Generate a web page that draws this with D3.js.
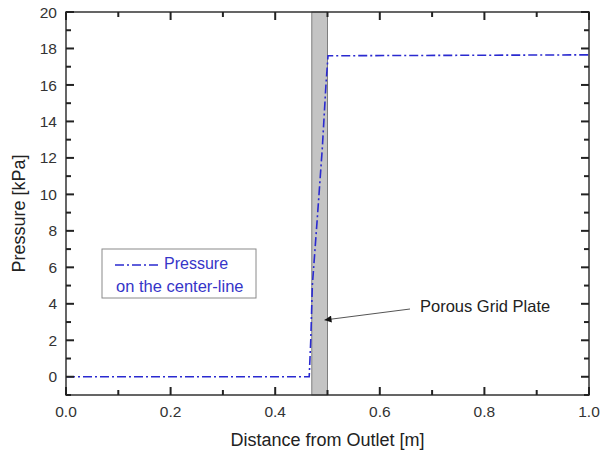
<!DOCTYPE html>
<html>
<head>
<meta charset="utf-8">
<script src="https://cdn.jsdelivr.net/npm/d3@7/dist/d3.min.js"></script>
<style>
	body { margin: 0; background: #fff; }
	text { font-family: "Liberation Sans", Arial, sans-serif; }
	.tickLabel { font-size: 15.5px; fill: #333; }
	.axisTitle { font-size: 18px; fill: #222; }
</style>
</head>
<body>
<div id="chart"></div>
<script>
	// data
	var distance = [0, 0.465, 0.468, 0.471, 0.480, 0.490, 0.497, 0.501, 1.0];
	var pressure = [0, 0, 2.0, 5.0, 8.5, 12.5, 16.0, 17.6, 17.65];
	var plate = [0.47, 0.5];          // porous grid plate extent [m]
	var xTicks = [0, 0.2, 0.4, 0.6, 0.8, 1.0];
	var xMinor = [0.1, 0.3, 0.5, 0.7, 0.9];
	var yTicks = [0, 2, 4, 6, 8, 10, 12, 14, 16, 18, 20];
	var yMinor = [-1, 1, 3, 5, 7, 9, 11, 13, 15, 17, 19];

	var W = 609, H = 452;
	var margin = { top: 12, right: 20, bottom: 57, left: 66 };
	var width = W - margin.left - margin.right,
		height = H - margin.top - margin.bottom;

	var svg = d3.select("#chart").append("svg")
		.attr("width", W)
		.attr("height", H)
		.append("g")
		.attr("transform", "translate(" + margin.left + "," + margin.top + ")");

	var x = d3.scaleLinear().domain([0, 1]).range([0, width]);
	var y = d3.scaleLinear().domain([-1, 20]).range([height, 0]);

	// grey plate band
	svg.append("rect")
		.attr("x", x(plate[0]))
		.attr("y", 0)
		.attr("width", x(plate[1]) - x(plate[0]))
		.attr("height", height)
		.attr("fill", "#c4c4c4")
		.attr("stroke", "#666")
		.attr("stroke-width", 0.8);

	// pressure line
	var pts = distance.map(function(d, i) { return [d, pressure[i]]; });
	var line = d3.line()
		.x(function(d) { return x(d[0]); })
		.y(function(d) { return y(d[1]); });

	svg.append("path")
		.datum(pts)
		.attr("d", line)
		.attr("fill", "none")
		.attr("stroke", "#2a2ad0")
		.attr("stroke-width", 1.6)
		.attr("stroke-dasharray", "9,3,2,3");

	////////////////////////// frame + inward ticks //////////////////////////
	svg.append("rect")
		.attr("width", width)
		.attr("height", height)
		.attr("fill", "none")
		.attr("stroke", "#333")
		.attr("stroke-width", 1.5);

	var ticks = svg.append("g")
		.attr("stroke", "#222")
		.attr("stroke-width", 2);

	function xTickMarks(vals, len) {
		vals.forEach(function(v) {
			ticks.append("line")        // bottom, pointing up
				.attr("x1", x(v)).attr("x2", x(v))
				.attr("y1", height).attr("y2", height - len);
			ticks.append("line")        // top, pointing down
				.attr("x1", x(v)).attr("x2", x(v))
				.attr("y1", 0).attr("y2", len);
		});
	}
	function yTickMarks(vals, len) {
		vals.forEach(function(v) {
			ticks.append("line")
				.attr("y1", y(v)).attr("y2", y(v))
				.attr("x1", 0).attr("x2", len);
			ticks.append("line")
				.attr("y1", y(v)).attr("y2", y(v))
				.attr("x1", width).attr("x2", width - len);
		});
	}
	xTickMarks(xTicks, 8);
	xTickMarks(xMinor, 5);
	yTickMarks(yTicks, 8);
	yTickMarks(yMinor, 5);

	// tick labels
	svg.selectAll(".xLabel")
		.data(xTicks)
		.enter().append("text")
		.attr("class", "tickLabel")
		.attr("x", function(d) { return x(d); })
		.attr("y", height + 22)
		.style("text-anchor", "middle")
		.text(d3.format(".1f"));

	svg.selectAll(".yLabel")
		.data(yTicks)
		.enter().append("text")
		.attr("class", "tickLabel")
		.attr("x", -9)
		.attr("y", function(d) { return y(d); })
		.attr("dy", "0.36em")
		.style("text-anchor", "end")
		.text(function(d) { return d; });

	// axis titles
	svg.append("text")
		.attr("class", "axisTitle")
		.attr("x", width / 2)
		.attr("y", height + 51)
		.style("text-anchor", "middle")
		.text("Distance from Outlet [m]");

	svg.append("text")
		.attr("class", "axisTitle")
		.attr("transform", "translate(" + (-41) + "," + (height / 2 + 10) + ") rotate(-90)")
		.style("text-anchor", "middle")
		.text("Pressure [kPa]");

	////////////////////////// legend //////////////////////////
	var legend = svg.append("g")
		.attr("transform", "translate(" + (102 - margin.left) + "," + (249 - margin.top) + ")");
	legend.append("rect")
		.attr("width", 154)
		.attr("height", 49)
		.attr("fill", "#fff")
		.attr("stroke", "#8a8a8a")
		.attr("stroke-width", 1);
	legend.append("line")
		.attr("x1", 13).attr("x2", 56)
		.attr("y1", 16).attr("y2", 16)
		.attr("stroke", "#2a2ad0")
		.attr("stroke-width", 1.6)
		.attr("stroke-dasharray", "9,3,2,3");
	legend.append("text")
		.attr("x", 62).attr("y", 20)
		.style("font-size", "16px")
		.style("fill", "#3535c8")
		.text("Pressure");
	legend.append("text")
		.attr("x", 14).attr("y", 43)
		.style("font-size", "16.5px")
		.style("fill", "#3535c8")
		.text("on the center-line");

	////////////////////////// annotation //////////////////////////
	svg.append("defs").append("marker")
		.attr("id", "arrow")
		.attr("viewBox", "0 0 10 10")
		.attr("refX", 10).attr("refY", 5)
		.attr("markerWidth", 9).attr("markerHeight", 7)
		.attr("markerUnits", "userSpaceOnUse")
		.attr("orient", "auto")
		.append("path")
		.attr("d", "M0,0 L10,5 L0,10 z")
		.attr("fill", "#111");

	svg.append("line")
		.attr("x1", 410 - margin.left).attr("y1", 309 - margin.top)
		.attr("x2", x(plate[1]) - 3).attr("y2", 320 - margin.top)
		.attr("stroke", "#555")
		.attr("stroke-width", 1)
		.attr("marker-end", "url(#arrow)");

	svg.append("text")
		.attr("x", 420 - margin.left)
		.attr("y", 312 - margin.top)
		.style("font-size", "16.5px")
		.style("fill", "#222")
		.text("Porous Grid Plate");
</script>
</body>
</html>
